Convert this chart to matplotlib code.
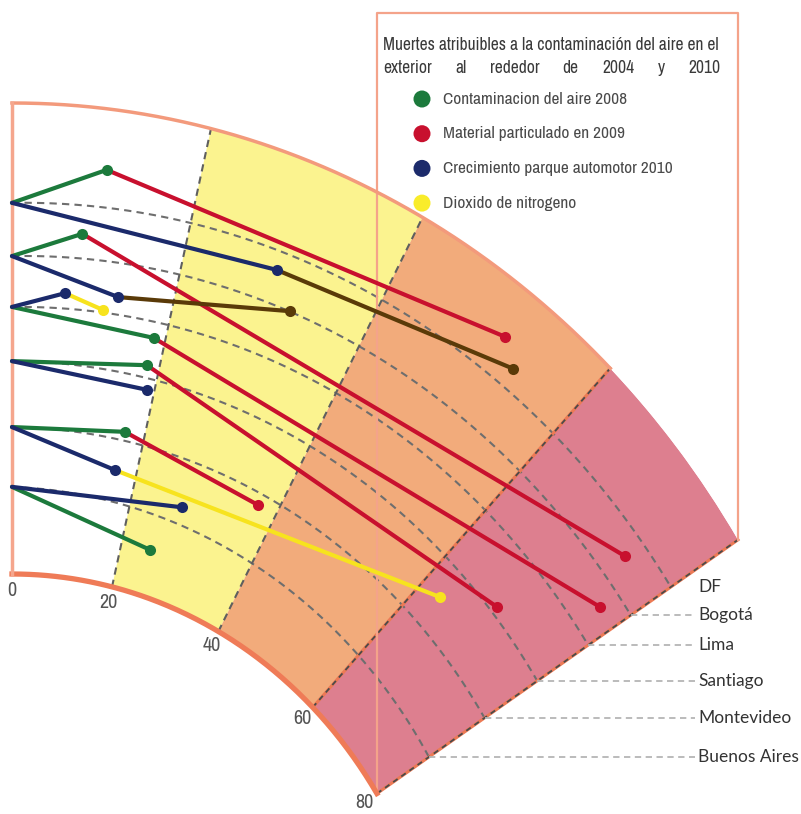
import numpy as np
import matplotlib
matplotlib.use('Agg')
import matplotlib.pyplot as plt
from matplotlib import font_manager
from matplotlib.font_manager import FontProperties

# ciudades, de la orbita exterior a la interior
cities = ['DF', 'Bogotá', 'Lima', 'Santiago', 'Montevideo', 'Buenos Aires']
city_lane = [78.8, 67.5, 56.7, 45.2, 31.2, 18.5]
city_lane_end = [81.4, 70.3, 58.5, 44.4, 29.8, 14.4]

# valor en la escala 0-80 y carril radial (0 = borde interior, 100 = borde exterior)
aire_2008 = [10.1, 8.1, 18.5, 18.3, 17.0, 24.7]
aire_2008_lane = [87.1, 73.0, 53.7, 47.7, 32.8, 9.9]
particulado_2009 = [51.3, 74.6, 77.3, 69.4, 37.3, None]
particulado_2009_lane = [89.1, 76.3, 65.3, 46.1, 28.1, None]
parque_2010 = [29.4, 13.2, 6.6, 19.0, 16.5, 27.5]
parque_2010_lane = [75.7, 60.7, 60.1, 42.6, 24.4, 20.8]
dioxido = [None, None, 11.5, None, 63.2, None]
dioxido_lane = [None, None, 57.5, None, 37.6, None]
otro = [53.5, 32.1, None, None, None, None]
otro_lane = [84.9, 68.7, None, None, None, None]

scale_ticks = [0, 20, 40, 60, 80]
legend_labels = ['Contaminacion del aire 2008', 'Material particulado en 2009',
                 'Crecimiento parque automotor 2010', 'Dioxido de nitrogeno']
title_lines = ['Muertes atribuibles a la contaminación del aire en el',
               'exterior al rededor de 2004 y 2010']

c_green, c_red, c_navy, c_yellow, c_brown = '#1c7a3c', '#c8102e', '#1b2a6b', '#f7e31e', '#5a3a08'
band_colors = ['white', '#fbf38f', '#f2ab7b', '#dd7f8f']


def pick_narrow():
    # busca una fuente estrecha instalada, si no hay usa Roboto
    good = []
    for f in font_manager.fontManager.ttflist:
        if f.style != 'normal' or 'Mono' in f.name:
            continue
        if f.weight not in (300, 400, 'normal', 'regular', 'light', 'book'):
            continue
        narrow_name = ('Narrow' in f.name) or ('Condensed' in f.name)
        if narrow_name or f.stretch in ('condensed', 'semi-condensed', 'extra-condensed'):
            rank = 0 if 'Narrow' in f.name else (1 if f.stretch == 'condensed' else 2)
            good.append((rank, f.fname))
    if good:
        good.sort()
        return FontProperties(fname=good[0][1])
    return FontProperties(family='Roboto')


narrow = pick_narrow()
installed = {f.name for f in font_manager.fontManager.ttflist}
label_font = 'Lato' if 'Lato' in installed else 'DejaVu Sans'

W, H = 801, 814
fig = plt.figure(figsize=(W / 100, H / 100), dpi=100)

# forma del abanico en pixeles: centro, radio exterior, radio interior, compresion horizontal
cx, cy, r_out, r_in, squeeze = 12, 1050, 947, 476, 0.91
tick_angle = [0, 13.35, 28.45, 43.96, 57.4]


def ang(v):
    return np.deg2rad(np.interp(v, scale_ticks, tick_angle))


ax = fig.add_axes([0, 0, 1, 1], projection='polar')
ax.set_theta_zero_location('N')
ax.set_theta_direction(-1)
ax.set_thetamin(0)
ax.set_thetamax(tick_angle[-1])
origin = -100 * r_in / (r_out - r_in)
ax.set_rorigin(origin)
ax.set_ylim(0, 100)
ax.set_aspect('auto')
ax.axis('off')

# colocar el eje polar para que el centro y los radios caigan donde estan en la imagen
probe = ax.transAxes.inverted().transform(
    ax.transData.transform([(0, origin), (0, 100), (np.pi / 2, 100)]))
want = np.array([[cx, cy], [cx, cy - r_out], [cx + squeeze * r_out, cy]], dtype=float)
fx = want[:, 0] / W
fy = 1 - want[:, 1] / H
w = (fx[2] - fx[0]) / (probe[2, 0] - probe[0, 0])
h = (fy[1] - fy[0]) / (probe[1, 1] - probe[0, 1])
ax.set_position([fx[0] - w * probe[0, 0], fy[0] - h * probe[0, 1], w, h])

ax2 = fig.add_axes([0, 0, 1, 1])
ax2.set_xlim(0, W)
ax2.set_ylim(H, 0)
ax2.axis('off')
ax2.patch.set_alpha(0)


def to_px(theta, r):
    pts = np.column_stack([np.atleast_1d(theta), np.atleast_1d(r)])
    return ax2.transData.inverted().transform(ax.transData.transform(pts))


# bandas
for lo, hi, col in zip(scale_ticks[:-1], scale_ticks[1:], band_colors):
    ax.bar(ang(lo), 100, width=ang(hi) - ang(lo), bottom=0, align='edge',
           color=col, lw=0, zorder=1)

# arcos de cada ciudad
th_all = np.linspace(0, ang(80), 300)
for lane0, lane1 in zip(city_lane, city_lane_end):
    ax.plot(th_all, np.linspace(lane0, lane1, th_all.size), color='#6e6e6e', lw=1.5,
            dashes=(3.5, 2.5), zorder=2)

# limites radiales
for v in scale_ticks[1:3]:
    ax.plot([ang(v)] * 2, [0, 100], color='#5f5f5f', lw=1.5, dashes=(3.5, 2.5), zorder=3)
for v in scale_ticks[3:]:
    ax.plot([ang(v)] * 2, [0, 100], color='#ec7a55', lw=2.2, zorder=3, clip_on=False)
    ax.plot([ang(v)] * 2, [0, 100], color='#4a4a4a', lw=1.3, dashes=(3, 2.5), zorder=3,
            clip_on=False)

# bordes
th_out = np.linspace(0, ang(60), 300)
ax.plot(th_out, np.full_like(th_out, 100), color='#f39a7c', lw=2.5, zorder=5, clip_on=False)
ax.plot(th_all, np.zeros_like(th_all), color='#ef7b57', lw=3.8, zorder=5, clip_on=False)
ax.plot([0, 0], [0, 100], color='#f5a68d', lw=2.5, zorder=5, clip_on=False)

# marco de la leyenda
p_in = to_px(ang(80), 0)[0]
p_out = to_px(ang(80), 100)[0]
frame_top = 13
ax.plot([p_in[0], p_in[0], p_out[0], p_out[0]], [p_in[1], frame_top, frame_top, p_out[1]],
        color='#f4a38a', lw=1.6, transform=ax2.transData, clip_on=False, zorder=4)

# series
for i in range(len(cities)):
    start = (0.0, city_lane[i])
    g = (ang(aire_2008[i]), aire_2008_lane[i])
    b = (ang(parque_2010[i]), parque_2010_lane[i])
    segs = [(start, g, c_green), (start, b, c_navy)]
    if particulado_2009[i] is not None:
        segs.append((g, (ang(particulado_2009[i]), particulado_2009_lane[i]), c_red))
    if dioxido[i] is not None:
        segs.append((b, (ang(dioxido[i]), dioxido_lane[i]), c_yellow))
    if otro[i] is not None:
        segs.append((b, (ang(otro[i]), otro_lane[i]), c_brown))
    for p, q, col in segs:
        ax.plot([p[0], q[0]], [p[1], q[1]], color=col, lw=3, solid_capstyle='round',
                zorder=6, clip_on=False)
        ax.plot(q[0], q[1], 'o', color=col, ms=8, mec='none', zorder=7, clip_on=False)

# etiquetas de la escala
tick_fp = narrow.copy()
tick_fp.set_size(14.5)
for v in scale_ticks:
    ax.text(ang(v), -3.4, str(v), ha='center', va='center', fontproperties=tick_fp,
            color='#555555', zorder=8)

# ciudades
label_x = 698
for i, (city, lane) in enumerate(zip(cities, city_lane_end)):
    end = to_px(ang(80), lane)[0]
    if i > 0:
        ax2.plot([end[0], label_x - 3], [end[1], end[1]], color='#b5b5b5', lw=1.3,
                 dashes=(3.5, 2.5))
    ax2.text(label_x, end[1], city, ha='left', va='center', fontsize=12.5,
             family=label_font, color='#333333')

# titulo justificado
renderer = fig.canvas.get_renderer()
tx0, tx1 = 383, 720
title_fp = narrow.copy()
title_fp.set_size(10)
t1 = ax2.text(tx0, 45, title_lines[0], ha='left', va='center', fontproperties=title_fp,
              color='#3a3a3a')
title_fp = title_fp.copy()
title_fp.set_size(10 * (tx1 - tx0) / t1.get_window_extent(renderer).width)
t1.set_fontproperties(title_fp)
words = title_lines[1].split()
wt = [ax2.text(0, 68, wd, ha='left', va='center', fontproperties=title_fp,
               color='#3a3a3a') for wd in words]
widths = [t.get_window_extent(renderer).width for t in wt]
gap = (tx1 - tx0 - sum(widths)) / (len(words) - 1)
xpos = tx0
for t, wd in zip(wt, widths):
    t.set_x(xpos)
    xpos += wd + gap

# leyenda
leg_colors = [c_green, c_red, '#1c2b6b', '#f9ec2a']
leg_y0, leg_dy = 99, 34.7
leg_fp = narrow.copy()
leg_fp.set_size(10)
probe_t = ax2.text(0, 0, legend_labels[2], fontproperties=leg_fp)
leg_fp = leg_fp.copy()
leg_fp.set_size(10 * 230 / probe_t.get_window_extent(renderer).width)
probe_t.remove()
for k, (lab, col) in enumerate(zip(legend_labels, leg_colors)):
    y = leg_y0 + k * leg_dy
    ax2.scatter([422], [y], s=150, color=col, edgecolors='none', zorder=5)
    ax2.text(443, y, lab, ha='left', va='center', fontproperties=leg_fp, color='#4a4a4a')

fig.savefig('out.png', dpi=100)
